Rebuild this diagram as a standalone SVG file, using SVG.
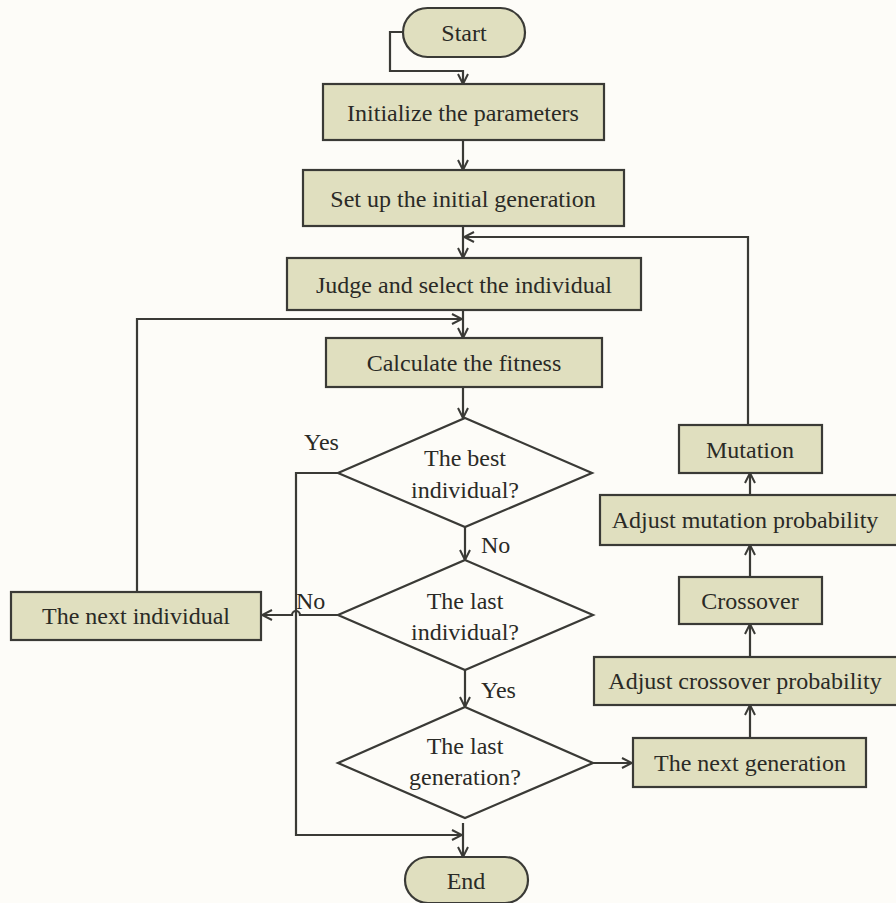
<svg xmlns="http://www.w3.org/2000/svg" width="896" height="903" viewBox="0 0 896 903">
<style>
.box{fill:#e0dfbf;stroke:#3a3a36;stroke-width:2.2}
.dia{fill:#fdfcf8;stroke:#3a3a36;stroke-width:2.2}
.ln{fill:none;stroke:#3a3a36;stroke-width:2.2}
.t{font-family:"Liberation Serif",serif;font-size:24px;fill:#2a2a26;text-anchor:middle}
.lbl{font-family:"Liberation Serif",serif;font-size:24px;fill:#2a2a26}
</style>
<defs>
<marker id="ah" viewBox="0 0 12 12" refX="11" refY="6" markerWidth="12" markerHeight="12" markerUnits="userSpaceOnUse" orient="auto">
<path d="M1,1 L11,6 L1,11" fill="none" stroke="#3a3a36" stroke-width="2"/>
</marker>
</defs>
<rect width="896" height="903" fill="#fdfcf8"/>
<g id="connectors">
<path class="ln" d="M403,32 H390 V71 H463 V84" marker-end="url(#ah)"/>
<path class="ln" d="M463,140 V170" marker-end="url(#ah)"/>
<path class="ln" d="M463,226 V258" marker-end="url(#ah)"/>
<path class="ln" d="M748,425 V237 H464" marker-end="url(#ah)"/>
<path class="ln" d="M463,310 V338" marker-end="url(#ah)"/>
<path class="ln" d="M137,592 V319 H462" marker-end="url(#ah)"/>
<path class="ln" d="M463,387 V418" marker-end="url(#ah)"/>
<path class="ln" d="M465,527 V560" marker-end="url(#ah)"/>
<path class="ln" d="M465,670 V707" marker-end="url(#ah)"/>
<path class="ln" d="M338,473 H296 V835 H462" marker-end="url(#ah)"/>
<path class="ln" d="M463,823 V857" marker-end="url(#ah)"/>
<path class="ln" d="M338,615 H300 A4,4 0 0 0 292,615 H262" marker-end="url(#ah)"/>
<path class="ln" d="M593,763 H632" marker-end="url(#ah)"/>
<path class="ln" d="M750,738 V705" marker-end="url(#ah)"/>
<path class="ln" d="M750,657 V624" marker-end="url(#ah)"/>
<path class="ln" d="M750,577 V545" marker-end="url(#ah)"/>
<path class="ln" d="M750,495 V473" marker-end="url(#ah)"/>
<text class="lbl" x="304" y="450">Yes</text>
<text class="lbl" x="481" y="553">No</text>
<text class="lbl" x="296" y="609">No</text>
<text class="lbl" x="481" y="698">Yes</text>
</g>
<g id="start"><rect class="box" x="403" y="8" width="122" height="49" rx="24.5"/><text class="t" x="464" y="41">Start</text></g>
<g id="init"><rect class="box" x="323" y="84" width="281" height="56"/><text class="t" x="463" y="121">Initialize the parameters</text></g>
<g id="setup"><rect class="box" x="303" y="170" width="321" height="56"/><text class="t" x="463" y="207">Set up the initial generation</text></g>
<g id="judge"><rect class="box" x="287" y="258" width="354" height="52"/><text class="t" x="464" y="293">Judge and select the individual</text></g>
<g id="calc"><rect class="box" x="326" y="338" width="276" height="49"/><text class="t" x="464" y="371">Calculate the fitness</text></g>
<g id="best"><polygon class="dia" points="465,418 592,473 465,527 338,473"/><text class="t" x="465" y="466">The best</text><text class="t" x="465" y="498">individual?</text></g>
<g id="lastind"><polygon class="dia" points="465,560 593,615 465,670 338,615"/><text class="t" x="465" y="609">The last</text><text class="t" x="465" y="640">individual?</text></g>
<g id="lastgen"><polygon class="dia" points="465,707 593,763 465,818 338,763"/><text class="t" x="465" y="754">The last</text><text class="t" x="465" y="785">generation?</text></g>
<g id="nextind"><rect class="box" x="11" y="592" width="250" height="48"/><text class="t" x="136" y="624">The next individual</text></g>
<g id="nextgen"><rect class="box" x="633" y="738" width="233" height="49"/><text class="t" x="750" y="771">The next generation</text></g>
<g id="adjcross"><rect class="box" x="594" y="657" width="305" height="48"/><text class="t" x="745" y="689">Adjust crossover probability</text></g>
<g id="crossover"><rect class="box" x="679" y="577" width="143" height="47"/><text class="t" x="750" y="609">Crossover</text></g>
<g id="adjmut"><rect class="box" x="600" y="495" width="299" height="50"/><text class="t" x="745" y="528">Adjust mutation probability</text></g>
<g id="mutation"><rect class="box" x="679" y="425" width="143" height="48"/><text class="t" x="750" y="458">Mutation</text></g>
<g id="end"><rect class="box" x="405" y="857" width="123" height="46" rx="23"/><text class="t" x="466" y="889">End</text></g>
</svg>
